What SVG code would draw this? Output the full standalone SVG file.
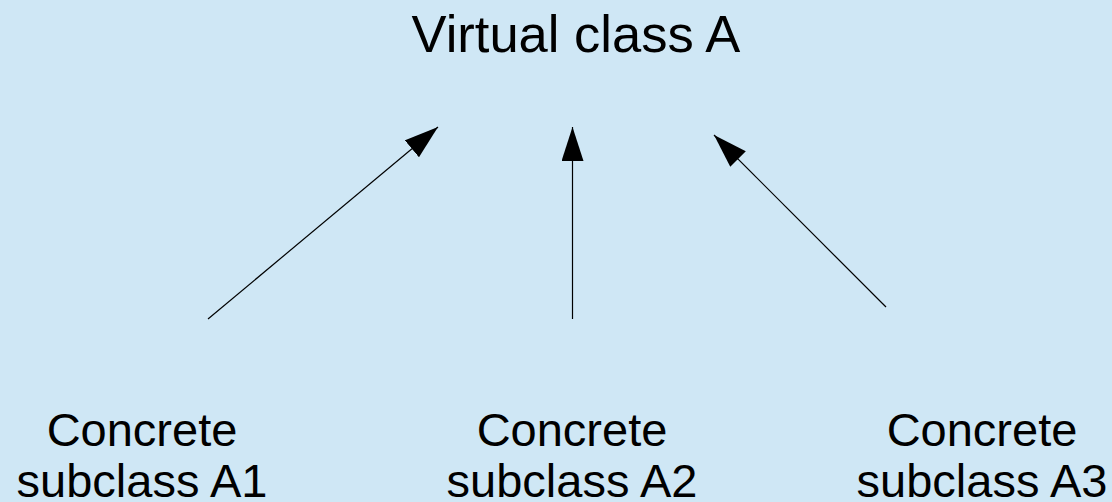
<svg xmlns="http://www.w3.org/2000/svg" width="1112" height="502" viewBox="0 0 1112 502">
  <style>
    .t { font-family: "Liberation Sans", Arial, sans-serif; fill: #000; text-anchor: middle; }
    .top { font-size: 52.5px; }
    .sub { font-size: 47px; }
    .conn { stroke: #000; stroke-width: 1.2; fill: none; marker-end: url(#arr); }
  </style>
  <defs>
    <marker id="arr" markerUnits="userSpaceOnUse" markerWidth="36" markerHeight="24" refX="34" refY="11" orient="auto">
      <path d="M0,0 L34,11 L0,22 z" fill="#000"/>
    </marker>
  </defs>
  <rect width="1112" height="502" fill="#cfe7f5"/>
  <g id="nodeA">
    <text class="t top" x="576" y="52">Virtual class A</text>
  </g>
  <g id="nodeA1">
    <text class="t sub" x="142" y="446">Concrete</text>
    <text class="t sub" x="142" y="497">subclass A1</text>
  </g>
  <g id="nodeA2">
    <text class="t sub" x="572" y="446">Concrete</text>
    <text class="t sub" x="572" y="497">subclass A2</text>
  </g>
  <g id="nodeA3">
    <text class="t sub" x="982" y="446">Concrete</text>
    <text class="t sub" x="982" y="497">subclass A3</text>
  </g>
  <g id="connectors">
    <line class="conn" x1="208" y1="319" x2="438" y2="127"/>
    <line class="conn" x1="572.5" y1="319" x2="572.5" y2="127"/>
    <line class="conn" x1="886" y1="307" x2="714" y2="135"/>
  </g>
</svg>
